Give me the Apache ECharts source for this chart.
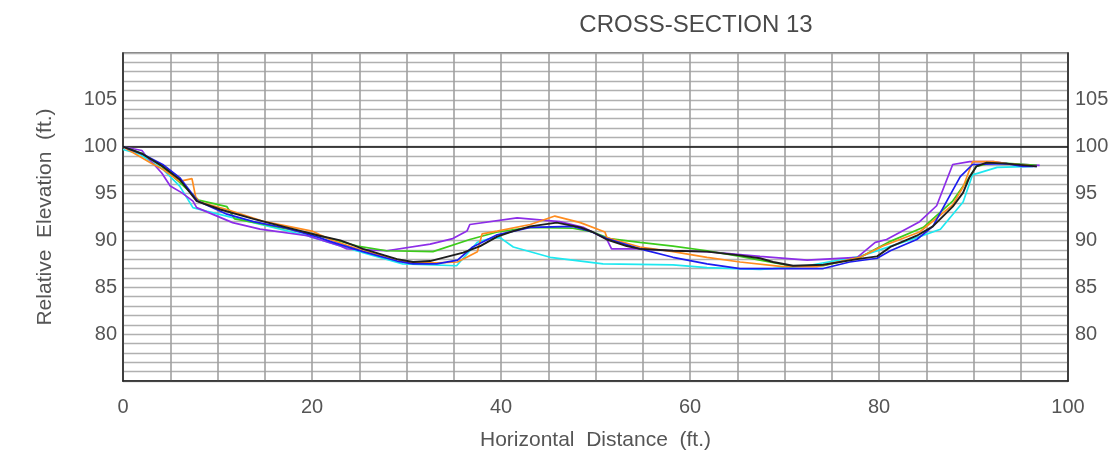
<!DOCTYPE html>
<html>
<head>
<meta charset="utf-8">
<title>Cross-Section 13</title>
<script src="https://cdn.jsdelivr.net/npm/echarts@6/dist/echarts.min.js"></script>
<style>
  html, body { margin: 0; padding: 0; background: #ffffff; }
  #chart { width: 1117px; height: 456px; }
</style>
</head>
<body>
<div id="chart"></div>
<script>
// Surveyed profiles for cross-section 13: [horizontal distance ft, relative elevation ft]
const cyanProfile = [
  [0, 99.7], [1.8, 99.2], [4.2, 97.6], [6, 95.8], [7.4, 93.5], [8.9, 93.1], [13.8, 91.9],
  [19.5, 90.5], [23, 89.4], [25.4, 88.7], [29.6, 87.5], [35.3, 87.3], [37.5, 89.8],
  [38.8, 90.2], [39.9, 90.3], [41.3, 89.3], [45.2, 88.2], [50.8, 87.5], [58.2, 87.4],
  [61.8, 87.1], [67.4, 86.9], [68.8, 87.0], [72.4, 87.3], [78, 88.3], [84, 90.3],
  [86.5, 91.2], [88.9, 94.1], [89.9, 97.0], [92.5, 97.8], [96.3, 97.9]
];
const purpleProfile = [
  [0, 100], [2, 99.6], [2.3, 99.2], [4.1, 97.2], [5, 95.8], [6.2, 95.1], [7.4, 94.2],
  [7.8, 93.5], [11.6, 91.9], [14.5, 91.2], [19.5, 90.5], [23, 89.4], [23.7, 89.1],
  [27.9, 88.9], [32.5, 89.6], [34.9, 90.2], [36.4, 91.0], [36.7, 91.7], [41.7, 92.4],
  [46.2, 92.0], [48.7, 91.4], [51.2, 90.1], [51.7, 89.1], [54.7, 89.1], [58.2, 88.9],
  [61.8, 88.8], [65.3, 88.5], [67.4, 88.3], [72.4, 87.9], [77.7, 88.2], [79.6, 89.8],
  [80.8, 90.1], [84.3, 92.0], [86.1, 93.7], [87.8, 98.1], [89.6, 98.4], [92.1, 98.4],
  [93.5, 98.2], [97, 98.0]
];
const greenProfile = [
  [0, 100], [2, 99.3], [4, 98], [6, 96.2], [8, 94.3], [11, 93.6], [11.8, 92.3],
  [15, 91.7], [20, 90.7], [21.9, 90.2], [24.8, 89.4], [27.9, 88.9], [32.8, 88.8],
  [36.7, 90.1], [39.6, 90.9], [43.1, 91.4], [47.6, 91.3], [49.7, 90.9], [51.5, 90.2],
  [54.7, 89.8], [58.2, 89.4], [61.8, 88.9], [65.3, 88.3], [67.4, 87.9], [70.6, 87.3],
  [74.1, 87.3], [78, 88.2], [81.2, 89.9], [84.7, 91.4], [87.8, 94.2], [89.6, 96.8],
  [90.3, 97.9], [92, 98.3], [94, 98.2], [96.7, 98.0]
];
const orangeProfile = [
  [0, 100], [2.9, 98.3], [4.2, 97.6], [6, 96.3], [7.3, 96.6], [7.7, 94.6], [8.1, 94.1],
  [11, 93.3], [15, 92.0], [20, 91.0], [21.9, 90.1], [25.4, 88.9], [30.4, 87.6],
  [33.2, 87.6], [35.4, 87.7], [37.5, 88.8], [38, 90.7], [39.6, 91.0], [43.1, 91.7],
  [45.7, 92.6], [48.4, 91.9], [51, 90.9], [51.2, 90.3], [54.7, 89.3], [58.2, 88.8],
  [61.8, 88.2], [65.3, 87.7], [69.8, 87.2], [73.4, 87.2], [78, 88.2], [80.4, 89.4],
  [84.3, 90.9], [87.8, 93.8], [88.9, 95.7], [89.9, 98.4], [92.1, 98.4], [93.5, 98.2],
  [96.7, 97.9]
];
const blueProfile = [
  [0, 100], [2.1, 99.2], [4.2, 98.1], [6, 96.7], [7.9, 94.2], [11, 92.8], [13.8, 92.0],
  [17.3, 91.3], [20.8, 90.3], [21.9, 89.9], [25.4, 88.8], [29, 87.8], [30.7, 87.5],
  [33.2, 87.5], [35.4, 87.9], [37, 89.3], [39.6, 90.6], [43.1, 91.4], [47.6, 91.5],
  [49.4, 91.0], [51.2, 90.2], [54.7, 89.1], [58.2, 88.2], [61.8, 87.5], [65.3, 87.0],
  [74.1, 87.0], [76.9, 87.7], [79.8, 88.1], [81.2, 88.9], [84, 90.1], [85.7, 91.5],
  [88.6, 96.8], [89.9, 98.1], [93.5, 98.2], [95.2, 97.9], [96.7, 97.9]
];
const blackProfile = [
  [0, 100], [2.1, 99.2], [4.2, 97.9], [6, 96.5], [7.8, 94.2], [10.3, 93.3], [13.8, 92.3],
  [17.3, 91.4], [20.8, 90.5], [23, 90.0], [25.4, 89.1], [29, 88.0], [30.7, 87.7],
  [32.5, 87.8], [36, 88.7], [37.8, 89.4], [39.6, 90.4], [41.3, 91.0], [43.1, 91.5],
  [45.9, 91.9], [48.4, 91.4], [49.7, 90.9], [51.2, 90.1], [53.3, 89.4], [54.7, 89.1],
  [58.2, 88.9], [61.8, 88.8], [65.3, 88.4], [67.4, 88.1], [68.8, 87.7], [70.9, 87.3],
  [74.1, 87.4], [77.7, 88.0], [79.8, 88.3], [81.2, 89.3], [84, 90.5], [85.7, 91.5],
  [87.8, 93.6], [88.9, 95.1], [89.6, 96.8], [90.3, 97.9], [91.4, 98.3], [93.5, 98.2],
  [96.7, 97.9]
];

const elevationTicks = [80, 85, 90, 95, 100, 105];
const distanceTicks = [0, 20, 40, 60, 80, 100];

const labelFont = {
  fontFamily: 'Liberation Sans Narrow, Liberation Sans, sans-serif',
  fontSize: 20,
  color: '#555555'
};
const gridColor = '#b0b0b0';

function profileSeries(data, color, width) {
  return {
    type: 'line',
    data: data,
    showSymbol: false,
    symbol: 'none',
    lineStyle: { color: color, width: width },
    animation: false,
    z: 3
  };
}

const chart = echarts.init(document.getElementById('chart'), null, { renderer: 'canvas' });

chart.setOption({
  backgroundColor: '#ffffff',
  animation: false,
  title: {
    text: 'CROSS-SECTION 13',
    left: 691,
    top: 8,
    textAlign: 'center',
    textStyle: {
      fontFamily: 'Liberation Sans, sans-serif',
      fontWeight: 'normal',
      fontSize: 24,
      color: '#4a4a4a'
    }
  },
  grid: {
    left: 123, right: 49, top: 53, bottom: 73,
    show: true, borderColor: '#555', borderWidth: 1.5
  },
  xAxis: {
    type: 'value',
    min: 0, max: 100, interval: 5,
    name: 'Horizontal  Distance  (ft.)',
    nameLocation: 'middle',
    nameGap: 49,
    nameTextStyle: Object.assign({}, labelFont, { fontSize: 21 }),
    axisLine: { show: true, lineStyle: { color: '#222', width: 1.5 } },
    axisTick: { show: false },
    axisLabel: Object.assign({}, labelFont, {
      margin: 16,
      formatter: v => distanceTicks.includes(v) ? String(v) : ''
    }),
    splitLine: { show: true, lineStyle: { color: '#a0a0a0', width: 1.6 } }
  },
  yAxis: [
    {
      type: 'value',
      min: 75, max: 110, interval: 1,
      name: 'Relative  Elevation  (ft.)',
      nameLocation: 'middle',
      nameGap: 67,
      nameTextStyle: Object.assign({}, labelFont, { fontSize: 21 }),
      axisLine: { show: true, lineStyle: { color: '#222', width: 1.5 } },
      axisTick: { show: false },
      axisLabel: Object.assign({}, labelFont, {
        margin: 6,
        formatter: v => elevationTicks.includes(v) ? String(v) : ''
      }),
      splitLine: { show: true, lineStyle: { color: gridColor, width: 1.3 } }
    },
    {
      type: 'value',
      position: 'right',
      min: 75, max: 110, interval: 1,
      axisLine: { show: true, lineStyle: { color: '#222', width: 1.5 } },
      axisTick: { show: false },
      axisLabel: Object.assign({}, labelFont, {
        margin: 7,
        formatter: v => elevationTicks.includes(v) ? String(v) : ''
      }),
      splitLine: { show: false }
    }
  ],
  series: [
    Object.assign(profileSeries(cyanProfile, '#1ee8f0', 1.7), {
      markLine: {
        silent: true,
        symbol: 'none',
        label: { show: false },
        lineStyle: { color: '#111', width: 1.5, type: 'solid' },
        data: [{ yAxis: 100 }],
        animation: false,
        z: 2
      }
    }),
    profileSeries(purpleProfile, '#8d2de8', 1.7),
    profileSeries(greenProfile, '#3ccc1a', 1.7),
    profileSeries(orangeProfile, '#ff8c1e', 1.7),
    profileSeries(blueProfile, '#1c1cf0', 1.7),
    profileSeries(blackProfile, '#1e1e1e', 1.9)
  ]
});
</script>
</body>
</html>
